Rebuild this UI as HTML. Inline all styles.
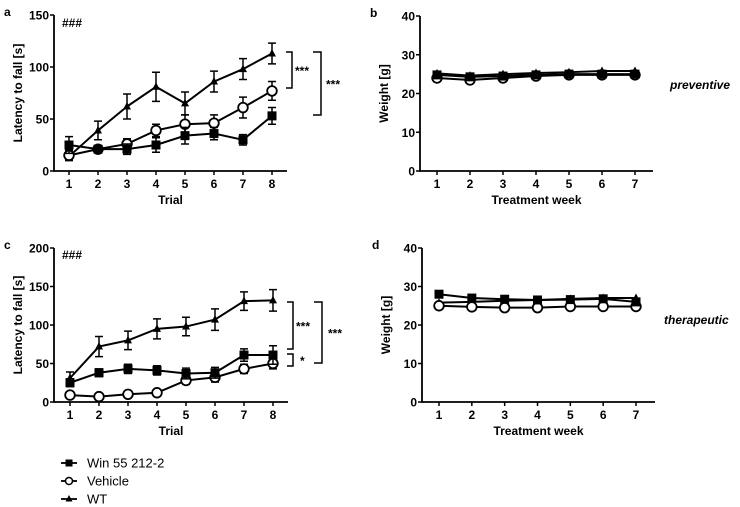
<!DOCTYPE html>
<html><head><meta charset="utf-8"><style>
html,body{margin:0;padding:0;background:#fff;}
svg{display:block;font-family:"Liberation Sans",Arial,sans-serif;}
.t{font-weight:bold;font-size:12px;}
</style></head><body>
<svg id="fig" width="740" height="507" viewBox="0 0 740 507"></svg>
<script>
const trials=[1,2,3,4,5,6,7,8];
const weeks=[1,2,3,4,5,6,7];
// panel a
const aWT=[14,39,62,81,65,86,98,113], aWTe=[3,9,12,14,11,10,10,10];
const aVeh=[15,21,26,39,45,46,61,77], aVehe=[5,3,5,6,9,8,10,9];
const aWin=[25,21,21,25,34,36,30,53], aWine=[8,3,5,7,8,6,5,8];
const aTicks=[0,50,100,150];
// panel c
const cWT=[31,72,80,95,98,107,131,132], cWTe=[8,13,12,13,12,14,12,14];
const cVeh=[9,7,10,12,28,32,43,50], cVehe=[2,1,2,2,5,6,6,7];
const cWin=[25,38,43,41,37,38,61,61], cWine=[5,5,6,6,7,7,8,12];
const cTicks=[0,50,100,150,200];
// panel b
const bWin=[24.8,24.3,24.5,24.8,25,25,25];
const bVeh=[24,23.5,24,24.5,24.8,24.8,24.8];
const bWT=[25.2,24.6,25,25.3,25.5,25.8,25.8];
// panel d
const dWin=[28,27,26.7,26.5,26.6,26.8,26];
const dVeh=[25,24.7,24.5,24.5,24.8,24.8,24.8];
const dWT=[25.8,26,26.3,26.5,26.8,27,27];
const wTicks=[0,10,20,30,40];

const NS="http://www.w3.org/2000/svg";
const svg=document.getElementById('fig');
function el(tag,attrs,parent){const e=document.createElementNS(NS,tag);for(const k in attrs)e.setAttribute(k,attrs[k]);(parent||svg).appendChild(e);return e;}
function txt(s,attrs,parent){const e=el('text',attrs,parent);e.textContent=s;return e;}

function panel(cfg){
  const g=el('g',{});
  
  
  const {x0,x1,y0,y1,xa,xb,cats,ymax,ticks}=cfg;
  const sx=i=>xa+(xb-xa)*(i-cats[0])/(cats[cats.length-1]-cats[0]);
  const sy=v=>y0-(y0-y1)*v/ymax;
  const ax=el('path',{d:`M${x0},${y1} V${y0} H${x1}`,stroke:'#000','stroke-width':1.8,fill:'none'},g);
  
  
  ticks.forEach(t=>{
    el('line',{x1:x0-4,x2:x0,y1:sy(t),y2:sy(t),stroke:'#000','stroke-width':1.5},g);
    const l=txt(t,{x:x0-5,y:sy(t)+4.5,'text-anchor':'end',class:'t'},g);
    
    
  });
  cats.forEach(c=>{
    el('line',{x1:sx(c),x2:sx(c),y1:y0,y2:y0+4,stroke:'#000','stroke-width':1.5},g);
    const l=txt(c,{x:sx(c),y:y0+17,'text-anchor':'middle',class:'t'},g);
    
    
  });
  const xt=txt(cfg.xtitle,{x:(x0+x1)/2,y:y0+33,'text-anchor':'middle',class:'t','font-size':'13'},g);
  
  
  const yt=txt(cfg.ytitle,{transform:`translate(${x0-32},${(y0+y1)/2}) rotate(-90)`,'text-anchor':'middle',class:'t','font-size':'13.5'},g);
  
  
  const lt=txt(cfg.letter,{x:x0-50,y:y1+1,class:'t','font-size':'16'},g);
  
  
  cfg.series.forEach(s=>{
    const sg=el('g',{},g);
    
    
    if(s.err) s.vals.forEach((v,i)=>{
      const x=sx(cats[i]),e=s.err[i];
      el('path',{d:`M${x},${sy(v-e)}V${sy(v+e)}M${x-4},${sy(v-e)}h8M${x-4},${sy(v+e)}h8`,stroke:'#000','stroke-width':1.5,fill:'none'},sg);
    });
    el('polyline',{points:s.vals.map((v,i)=>sx(cats[i])+','+sy(v)).join(' '),fill:'none',stroke:'#000','stroke-width':2},sg);
    s.vals.forEach((v,i)=>{
      const x=sx(cats[i]),y=sy(v);let m;
      if(s.key==='win') m=el('rect',{x:x-4.5,y:y-4.5,width:9,height:9,fill:'#000'},sg);
      else if(s.key==='veh') m=el('circle',{cx:x,cy:y,r:4.8,fill:'#fff',stroke:'#000','stroke-width':1.8},sg);
      else m=el('path',{d:`M${x},${y-4.5}L${x+4},${y+3}L${x-4},${y+3}Z`,fill:'#000'},sg);
      
      
    });
  });
  return g;
}

panel({name:'panel-a',letter:'a',x0:54,x1:287,y0:171,y1:15,xa:69,xb:272,cats:trials,ymax:150,ticks:aTicks,xtitle:'Trial',ytitle:'Latency to fall [s]',
  series:[{key:'wt',vals:aWT,err:aWTe},{key:'veh',vals:aVeh,err:aVehe},{key:'win',vals:aWin,err:aWine}]});
panel({name:'panel-c',letter:'c',x0:54,x1:288,y0:402,y1:248,xa:70,xb:273,cats:trials,ymax:200,ticks:cTicks,xtitle:'Trial',ytitle:'Latency to fall [s]',
  series:[{key:'wt',vals:cWT,err:cWTe},{key:'veh',vals:cVeh,err:cVehe},{key:'win',vals:cWin,err:cWine}]});
panel({name:'panel-b',letter:'b',x0:420,x1:653,y0:171,y1:16,xa:437,xb:635,cats:weeks,ymax:40,ticks:wTicks,xtitle:'Treatment week',ytitle:'Weight [g]',
  series:[{key:'wt',vals:bWT},{key:'veh',vals:bVeh},{key:'win',vals:bWin}]});
panel({name:'panel-d',letter:'d',x0:422,x1:655,y0:402,y1:248,xa:439,xb:636,cats:weeks,ymax:40,ticks:wTicks,xtitle:'Treatment week',ytitle:'Weight [g]',
  series:[{key:'wt',vals:dWT},{key:'veh',vals:dVeh},{key:'win',vals:dWin}]});

function bracket(x,ya,yb,w,label,lx,name){
  const b=el('path',{d:`M${x-w},${ya}H${x}V${yb}H${x-w}`,fill:'none',stroke:'#000','stroke-width':1.5});
  
  
  const t=txt(label,{x:lx,y:(ya+yb)/2+5,class:'t','font-size':'12'});
  
  
}
bracket(292,52,88,6,'***',295,'sig-bracket-a-inner');
bracket(321,52,115,8,'***',326,'sig-bracket-a-outer');
bracket(293,302,349,6,'***',296,'sig-bracket-c-inner');
bracket(293,354,366,6,'*',300,'sig-bracket-c-small');
bracket(322,302,363,8,'***',328,'sig-bracket-c-outer');

[[62,27],[62,259]].forEach(p=>{const t=txt('###',{x:p[0],y:p[1],class:'t','font-size':'10'});

});
const pv=txt('preventive',{x:670,y:89,class:'t','font-style':'italic','font-size':'11.5'});


const th=txt('therapeutic',{x:664,y:324,class:'t','font-style':'italic','font-size':'11.5'});



const lg=el('g',{});


[['win','Win 55 212-2',463],['veh','Vehicle',481],['wt','WT',499]].forEach(([k,l,y])=>{
  const e=el('g',{},lg);
  
  
  el('line',{x1:61,x2:77,y1:y,y2:y,stroke:'#000','stroke-width':1.8},e);
  const x=69;
  if(k==='win') el('rect',{x:x-3.5,y:y-3.5,width:7,height:7,fill:'#000'},e);
  else if(k==='veh') el('circle',{cx:x,cy:y,r:3.5,fill:'#fff',stroke:'#000','stroke-width':1.5},e);
  else el('path',{d:`M${x},${y-4}L${x+3.5},${y+2.5}L${x-3.5},${y+2.5}Z`,fill:'#000'},e);
  txt(l,{x:87,y:y+4.5,'font-size':'13'},e);
});
</script>
</body></html>
